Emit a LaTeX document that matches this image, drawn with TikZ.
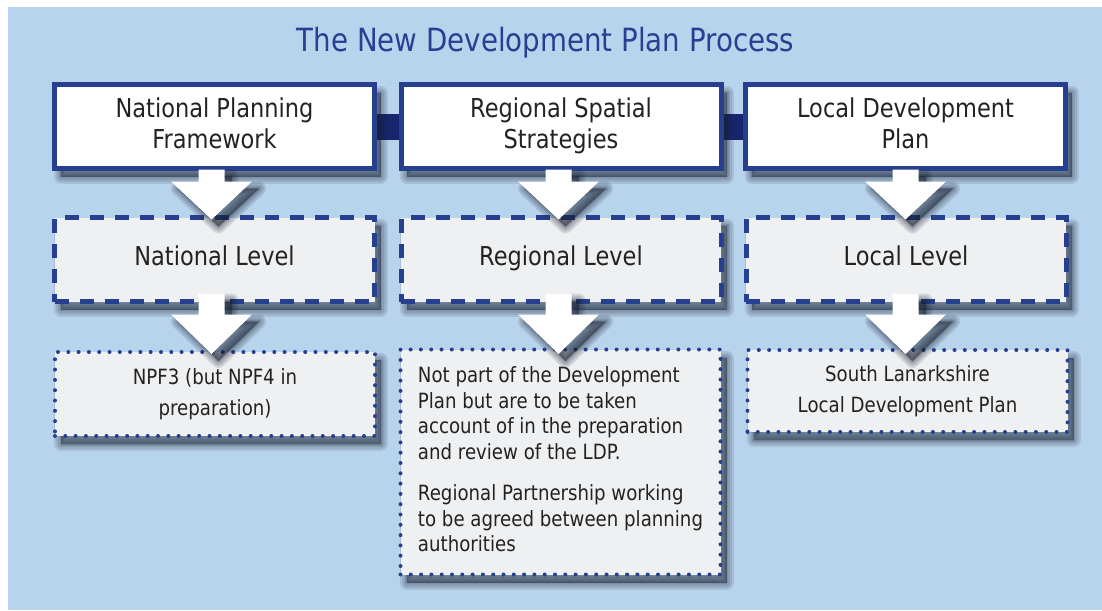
\documentclass[tikz,border=0pt]{standalone}
\usepackage{fontspec}
\setmainfont{DejaVu Sans}[FakeStretch=0.865]
\usetikzlibrary{calc}
\definecolor{bgblue}{HTML}{B8D3EC}
\definecolor{frame}{HTML}{26408F}
\definecolor{titleblue}{HTML}{2A3F92}
\definecolor{boxgray}{HTML}{EEF0F2}
\definecolor{barblue}{HTML}{17256C}
\definecolor{txt}{HTML}{222222}
\definecolor{shadowcol}{HTML}{1A2233}
\pgfdeclarelayer{back}
\pgfdeclarelayer{links}
\pgfsetlayers{back,links,main}
\begin{document}
\begin{tikzpicture}[x=1pt,y=-1pt,
  shadowlayer/.style={preaction={draw=shadowcol, solid, line join=round, line cap=round, draw opacity=.11,
      fill=shadowcol, fill opacity=.11, line width=#1, transform canvas={xshift=6pt,yshift=-8pt}}},
  softshadow/.style={shadowlayer=14pt, shadowlayer=10pt, shadowlayer=6pt, shadowlayer=3pt, shadowlayer=0.5pt},
  arrowshadowlayer/.style={preaction={draw=shadowcol, solid, line join=round, draw opacity=.13,
      fill=shadowcol, fill opacity=.13, line width=#1, transform canvas={xshift=7pt,yshift=-7pt}}},
  arrowshadow/.style={arrowshadowlayer=14pt, arrowshadowlayer=10pt, arrowshadowlayer=6pt, arrowshadowlayer=3pt, arrowshadowlayer=0.5pt},
  planbox/.style={draw=frame, line width=5pt, fill=white, minimum width=320pt, minimum height=84pt,
    align=center, font=\fontsize{26}{31}\selectfont, text=txt, softshadow},
  levelbox/.style={draw=frame, line width=5pt, dash pattern=on 14pt off 11pt, fill=boxgray,
    minimum width=320pt, minimum height=84pt, font=\fontsize{26}{31}\selectfont, text=txt, softshadow},
  notebox/.style={draw=frame, line width=4pt, line cap=round, dash pattern=on 0pt off 10.3pt,
    fill=boxgray, minimum width=320pt, font=\fontsize{21}{31}\selectfont, text=txt, softshadow},
  blockarrow/.style={fill=white, arrowshadow},
  linkbar/.style={fill=barblue},
  titlestyle/.style={font=\fontsize{32}{38}\selectfont, text=titleblue}
]
\useasboundingbox (0,0) rectangle (1102,610);
\begin{pgfonlayer}{back}
  \fill[white] (0,0) rectangle (1102,610);
  \fill[bgblue] (8,7) rectangle (1102,610);
\end{pgfonlayer}

\node[titlestyle, anchor=base] (title) at (545.5,52) {The New Development Plan Process};

\node[planbox] (top1) at (214.5,126.5) {\strut National Planning\\Framework\strut};
\node[planbox] (top2) at (561,126.5) {\strut Regional Spatial\\Strategies\strut};
\node[planbox] (top3) at (905.5,126.5) {\strut Local Development\\Plan\strut};

\begin{pgfonlayer}{links}
  \fill[linkbar] ($(top1.east)+(0,-13)$) rectangle ($(top2.west)+(0,13)$);
  \fill[linkbar] ($(top2.east)+(0,-13)$) rectangle ($(top3.west)+(0,13)$);
\end{pgfonlayer}

\node[levelbox] (lvl1) at (214.5,259.5) {\strut National Level};
\node[levelbox] (lvl2) at (561,259.5) {\strut Regional Level};
\node[levelbox] (lvl3) at (906,259.5) {\strut Local Level};

\node[notebox, minimum height=84pt, align=center] (note1) at (215,394)
  {\strut NPF3 (but NPF4 in\\preparation)\strut};
\node[notebox, minimum height=225pt, align=left, font=\fontsize{21}{25.7}\selectfont] (note2) at (560.5,462)
  {\strut Not part of the Development\\Plan but are to be taken\\account of in the preparation\\and review of the LDP.\\[15.3pt]Regional Partnership working\\to be agreed between planning\\authorities\strut};
\node[notebox, minimum height=82pt, align=center] (note3) at (907.5,391)
  {\strut South Lanarkshire\\Local Development Plan\strut};

\foreach \s/\t/\dx/\a/\h/\p in {top1/lvl1/-3/-1.5/10.5/4.5, top2/lvl2/-2.5/-1.5/10.5/4.5, top3/lvl3/0/-1.5/10.5/4.5,
    lvl1/note1/-3/-10.5/10.5/4, lvl2/note2/-2.5/-10.5/10.5/6.5, lvl3/note3/-0.5/-10.5/10.5/6}{
  \coordinate (sh) at ($(\s.south)+(\dx,\a)$);
  \coordinate (hd) at ($(\s.south)+(\dx,\h)$);
  \coordinate (tp) at ($(\t.north)+(0,\p)$);
  \fill[blockarrow] ($(sh)+(-13,0)$) -- ($(sh)+(13,0)$) -- ($(hd)+(13,0)$) -- ($(hd)+(40.5,0)$)
    -- (sh |- tp) -- ($(hd)+(-40.5,0)$) -- ($(hd)+(-13,0)$) -- cycle;
}
\end{tikzpicture}
\end{document}
